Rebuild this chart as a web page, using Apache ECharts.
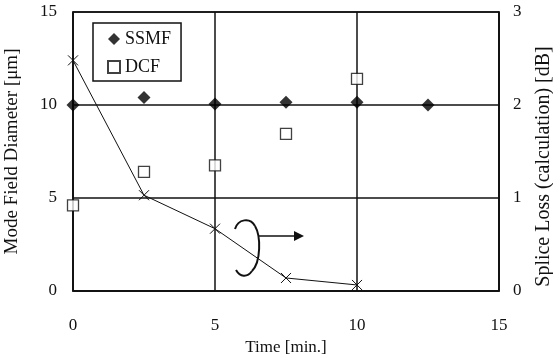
<!DOCTYPE html>
<html><head><meta charset="utf-8">
<script src="https://cdn.jsdelivr.net/npm/echarts@6/dist/echarts.min.js"></script>
<style>html,body{margin:0;padding:0;background:#fff}#c{width:553px;height:354px}</style>
</head><body><div id="c"></div>
<script>
var timeTicks = [0, 5, 10, 15];
var ssmfTime = [0, 2.5, 5, 7.5, 10, 12.5];
var ssmfMfd = [10.0, 10.4, 10.05, 10.15, 10.15, 10.0];
var dcfTime = [0, 2.5, 5, 7.5, 10];
var dcfMfd = [4.6, 6.4, 6.75, 8.45, 11.4];
var lossTime = [0, 2.5, 5, 7.5, 10];
var lossDb = [2.48, 1.03, 0.67, 0.14, 0.065];

function pairs(xs, ys){ return xs.map(function(x,i){return [x, ys[i]];}); }
var FONT = 'Liberation Serif';
var INK = '#111';
function bz(x1,y1,c1x,c1y,c2x,c2y,x2,y2){
  return {type:'bezierCurve', z:10, shape:{x1:x1,y1:y1,cpx1:c1x,cpy1:c1y,cpx2:c2x,cpy2:c2y,x2:x2,y2:y2},
          style:{fill:null, stroke:INK, lineWidth:2}};
}
var chart = echarts.init(document.getElementById('c'), null, {renderer:'canvas'});
chart.setOption({
  animation:false,
  backgroundColor:'#fff',
  textStyle:{fontFamily:FONT, color:INK},
  grid:{left:73, right:54, top:12, bottom:63, outerBoundsMode:'none', containLabel:false,
        show:true, borderColor:INK, borderWidth:1.5, backgroundColor:'transparent'},
  legend:{
    left:93, top:23, orient:'vertical', itemGap:10,
    padding:[7,10,5,14],
    borderColor:INK, borderWidth:1.5,
    itemWidth:12, itemHeight:12,
    textStyle:{fontFamily:FONT, fontSize:18, color:INK},
    data:[{name:'SSMF', icon:'diamond'},{name:'DCF', icon:'rect'}]
  },
  xAxis:{type:'value', min:timeTicks[0], max:timeTicks[timeTicks.length-1], interval:5,
    name:'Time [min.]', nameLocation:'middle', nameGap:37,
    nameTextStyle:{fontFamily:FONT, fontSize:17, color:INK},
    axisLine:{show:true, lineStyle:{color:INK, width:1.5}},
    axisTick:{show:false},
    axisLabel:{margin:26, fontFamily:FONT, fontSize:17, color:INK},
    splitLine:{show:true, lineStyle:{color:INK, width:1.5}}},
  yAxis:[
    {type:'value', min:0, max:15, interval:5, position:'left',
     name:'Mode Field Diameter [\u03bcm]', nameLocation:'middle', nameGap:51, nameRotate:90,
     nameTextStyle:{fontFamily:FONT, fontSize:19, color:INK},
     axisLine:{show:true, lineStyle:{color:INK, width:1.5}}, axisTick:{show:false},
     axisLabel:{margin:16, fontFamily:FONT, fontSize:17, color:INK},
     splitLine:{show:true, lineStyle:{color:INK, width:1.5}}},
    {type:'value', min:0, max:3, interval:1, position:'right',
     name:'Splice Loss (calculation) [dB]', nameLocation:'middle', nameGap:35, nameRotate:90,
     nameTextStyle:{fontFamily:FONT, fontSize:20, color:INK, padding:[0,30,0,0]},
     axisLine:{show:true, lineStyle:{color:INK, width:1.5}}, axisTick:{show:false},
     axisLabel:{margin:14, fontFamily:FONT, fontSize:17, color:INK},
     splitLine:{show:false}}
  ],
  series:[
    {name:'Splice Loss', type:'line', yAxisIndex:1, data:pairs(lossTime, lossDb),
     symbol:'path://M0,0L10,10M10,0L0,10', symbolSize:10,
     itemStyle:{color:'rgba(0,0,0,0)', borderColor:INK, borderWidth:1},
     lineStyle:{color:INK, width:1}, z:3},
    {name:'SSMF', type:'scatter', yAxisIndex:0, data:pairs(ssmfTime, ssmfMfd),
     symbol:'diamond', symbolSize:13, itemStyle:{color:'#000'}, z:4},
    {name:'DCF', type:'scatter', yAxisIndex:0, data:pairs(dcfTime, dcfMfd),
     symbol:'rect', symbolSize:11, itemStyle:{color:'#fff', borderColor:INK, borderWidth:1.3}, z:4}
  ],
  graphic:[
    bz(235,229, 238,219, 250,217, 255,226),
    bz(255,226, 261,236, 261,262, 252,271),
    bz(252,271, 247,278, 240,277, 236,270),
    {type:'line', z:10, shape:{x1:259, y1:236, x2:296, y2:236}, style:{stroke:INK, lineWidth:1.5}},
    {type:'polygon', z:10, shape:{points:[[294,231],[304,236],[294,241]]}, style:{fill:INK}}
  ]
});
</script></body></html>
